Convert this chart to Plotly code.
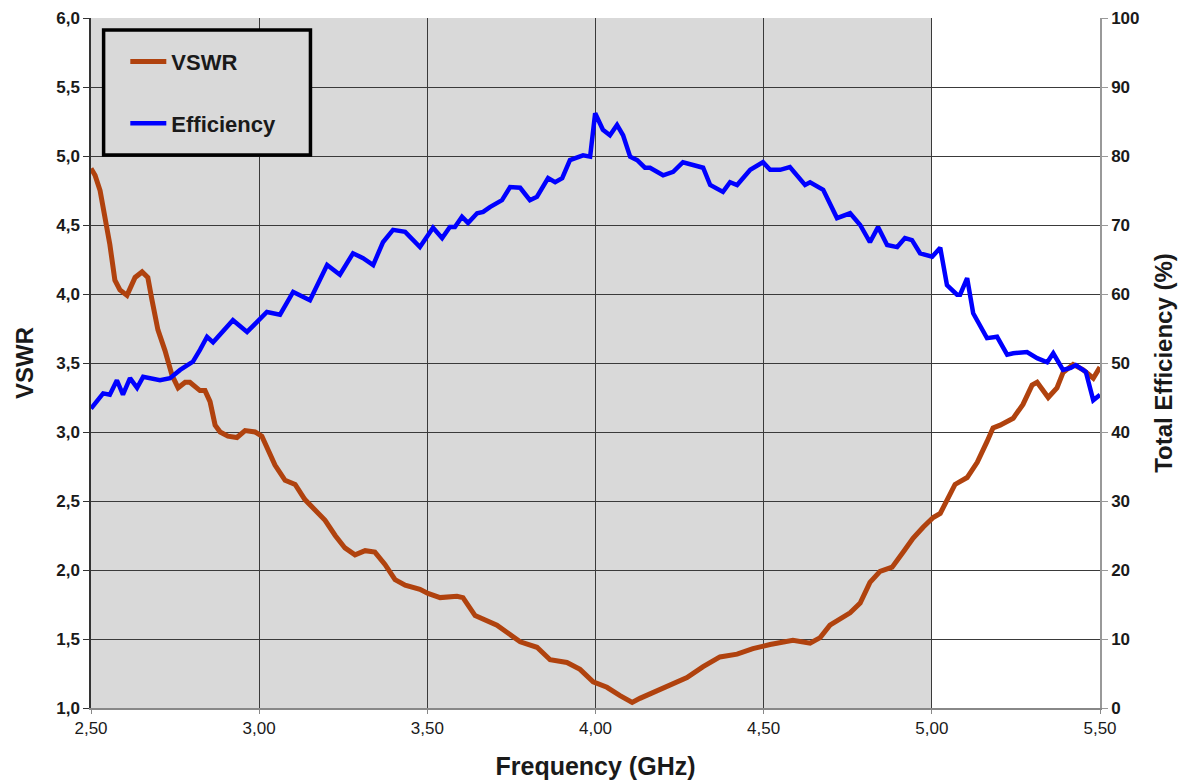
import plotly.graph_objects as go

vswr_freq = [2.500, 2.512, 2.527, 2.542, 2.556, 2.571, 2.586, 2.607, 2.631, 2.652, 2.669, 2.681, 2.699, 2.720,
             2.741, 2.759, 2.780, 2.794, 2.824, 2.839, 2.854, 2.869, 2.884, 2.907, 2.934, 2.958, 2.988, 3.008,
             3.026, 3.047, 3.077, 3.107, 3.136, 3.166, 3.196, 3.226, 3.255, 3.285, 3.315, 3.344, 3.374, 3.404,
             3.434, 3.478, 3.502, 3.538, 3.588, 3.606, 3.642, 3.707, 3.776, 3.826, 3.865, 3.915, 3.954, 3.993,
             4.034, 4.073, 4.109, 4.132, 4.171, 4.222, 4.272, 4.320, 4.370, 4.421, 4.468, 4.519, 4.587, 4.638,
             4.668, 4.697, 4.757, 4.787, 4.816, 4.846, 4.882, 4.915, 4.944, 4.974, 5.004, 5.025, 5.054, 5.069,
             5.105, 5.135, 5.164, 5.182, 5.203, 5.242, 5.271, 5.298, 5.313, 5.346, 5.372, 5.390, 5.420, 5.450,
             5.480, 5.500]
vswr_vals = [4.91, 4.86, 4.75, 4.57, 4.36, 4.10, 4.03, 3.99, 4.12, 4.16, 4.12, 3.96, 3.74, 3.59,
             3.41, 3.32, 3.36, 3.36, 3.30, 3.30, 3.22, 3.05, 3.00, 2.97, 2.96, 3.01, 3.00, 2.97,
             2.88, 2.76, 2.65, 2.62, 2.51, 2.43, 2.36, 2.25, 2.16, 2.11, 2.14, 2.13, 2.04, 1.93,
             1.89, 1.86, 1.83, 1.80, 1.81, 1.80, 1.67, 1.60, 1.48, 1.44, 1.35, 1.33, 1.28, 1.19,
             1.15, 1.09, 1.04, 1.07, 1.11, 1.17, 1.22, 1.30, 1.37, 1.39, 1.43, 1.46, 1.49, 1.47,
             1.51, 1.60, 1.69, 1.76, 1.91, 1.99, 2.02, 2.13, 2.23, 2.31, 2.38, 2.41, 2.56, 2.62,
             2.67, 2.78, 2.93, 3.03, 3.05, 3.10, 3.20, 3.34, 3.36, 3.25, 3.32, 3.43, 3.49, 3.45,
             3.39, 3.47]

eff_freq = [2.500, 2.536, 2.556, 2.577, 2.595, 2.616, 2.637, 2.655, 2.705, 2.735, 2.765, 2.803, 2.824,
            2.845, 2.863, 2.922, 2.964, 3.023, 3.062, 3.101, 3.151, 3.202, 3.240, 3.279, 3.309, 3.339,
            3.368, 3.398, 3.434, 3.478, 3.517, 3.544, 3.567, 3.582, 3.603, 3.621, 3.648, 3.666, 3.686,
            3.722, 3.746, 3.776, 3.805, 3.826, 3.859, 3.880, 3.901, 3.924, 3.963, 3.984, 3.999, 4.022,
            4.043, 4.064, 4.082, 4.103, 4.124, 4.147, 4.162, 4.201, 4.231, 4.260, 4.290, 4.320, 4.341,
            4.379, 4.400, 4.421, 4.460, 4.498, 4.519, 4.549, 4.578, 4.623, 4.638, 4.677, 4.718, 4.757,
            4.787, 4.816, 4.840, 4.867, 4.897, 4.920, 4.941, 4.965, 5.001, 5.025, 5.045, 5.075, 5.084,
            5.105, 5.123, 5.164, 5.194, 5.224, 5.242, 5.283, 5.313, 5.343, 5.361, 5.390, 5.413, 5.428,
            5.458, 5.480, 5.500]
eff_vals = [43.4, 45.6, 45.4, 47.5, 45.4, 47.8, 46.4, 48.0, 47.5, 47.8, 49.0, 50.2, 51.9,
            53.8, 53.0, 56.2, 54.5, 57.4, 57.0, 60.3, 59.1, 64.2, 62.8, 65.9, 65.2, 64.2,
            67.5, 69.3, 69.0, 66.8, 69.6, 68.1, 69.7, 69.7, 71.2, 70.3, 71.7, 71.9, 72.6,
            73.6, 75.5, 75.4, 73.6, 74.1, 76.8, 76.2, 76.8, 79.4, 80.1, 79.9, 86.2, 83.8,
            83.0, 84.5, 83.0, 79.9, 79.4, 78.3, 78.3, 77.2, 77.7, 79.1, 78.7, 78.3, 75.8,
            74.8, 76.2, 75.8, 78.0, 79.1, 78.0, 78.0, 78.4, 75.8, 76.2, 75.1, 71.0, 71.7,
            70.0, 67.5, 69.7, 67.1, 66.8, 68.1, 67.8, 65.9, 65.4, 66.7, 61.3, 59.9, 59.9,
            62.3, 57.2, 53.6, 53.8, 51.2, 51.4, 51.6, 50.7, 50.1, 51.4, 49.0, 49.3, 49.7,
            48.7, 44.6, 45.4]

x_ticks = [2.5, 3.0, 3.5, 4.0, 4.5, 5.0, 5.5]
shade_band = [2.5, 5.0]

font_fam = "Liberation Sans, Arial, sans-serif"
txt = "#1a1a1a"
tickf = dict(size=17, family=font_fam, color=txt)

fig = go.Figure()
fig.add_trace(go.Scatter(x=vswr_freq, y=vswr_vals, name="<b>VSWR</b>", mode="lines",
                         line=dict(color="#b0420e", width=5), legendgroup="a"))
fig.add_trace(go.Scatter(x=eff_freq, y=eff_vals, name="<b>Efficiency</b>", mode="lines", yaxis="y2",
                         line=dict(color="#0000ff", width=4.5), legendgroup="b"))

# gray shaded band
fig.add_shape(type="rect", xref="x", yref="paper", x0=shade_band[0], x1=shade_band[1], y0=0, y1=1,
              fillcolor="#d9d9d9", line=dict(width=0), layer="below")
# legend frame
fig.add_shape(type="rect", xref="paper", yref="paper", x0=0.0125, x1=0.2175, y0=0.8014, y1=0.9826,
              fillcolor="#d9d9d9", line=dict(color="black", width=3.5), layer="above")

fig.update_layout(
    width=1178, height=775,
    margin=dict(l=83, r=86, t=10, b=75, autoexpand=False),
    paper_bgcolor="white", plot_bgcolor="white",
    separators=",.",
    font=dict(family=font_fam, size=14, color=txt),
    showlegend=True,
    legend=dict(x=0.034, y=0.967, xanchor="left", yanchor="top",
                bgcolor="rgba(0,0,0,0)", borderwidth=0,
                font=dict(size=22, family=font_fam, color=txt),
                tracegroupgap=30, traceorder="grouped", itemwidth=36),
    xaxis=dict(range=[2.5, 5.5], tickvals=x_ticks, tickformat=".2f", automargin=False,
               tickprefix="<b>", ticksuffix="</b>",
               showgrid=True, gridcolor="#3a3a3a", gridwidth=1,
               showline=True, linecolor="#888888", linewidth=1.5,
               ticks="outside", ticklen=4, tickcolor="#888888",
               tickfont=tickf,
               title=dict(text="<b>Frequency (GHz)</b>", font=dict(size=25), standoff=20),
               zeroline=False),
    yaxis=dict(range=[1.0, 6.0], dtick=0.5, tickformat=".1f", automargin=False,
               tickprefix="<b>", ticksuffix="</b>",
               showgrid=True, gridcolor="#3a3a3a", gridwidth=1,
               showline=True, linecolor="#333333", linewidth=1.5,
               ticks="outside", ticklen=6, tickcolor="#333333",
               tickfont=tickf,
               title=dict(text="<b>VSWR</b>", font=dict(size=24), standoff=16),
               zeroline=False),
    yaxis2=dict(range=[0, 100], dtick=10, overlaying="y", side="right", automargin=False,
                tickprefix="<b>", ticksuffix="</b>",
                showgrid=False, showline=True, linecolor="#999999", linewidth=1.5,
                ticks="outside", ticklen=6, tickcolor="#999999",
                tickfont=tickf,
                title=dict(text="<b>Total Efficiency (%)</b>", font=dict(size=24), standoff=17),
                zeroline=False),
)

fig.write_html("out.html")
